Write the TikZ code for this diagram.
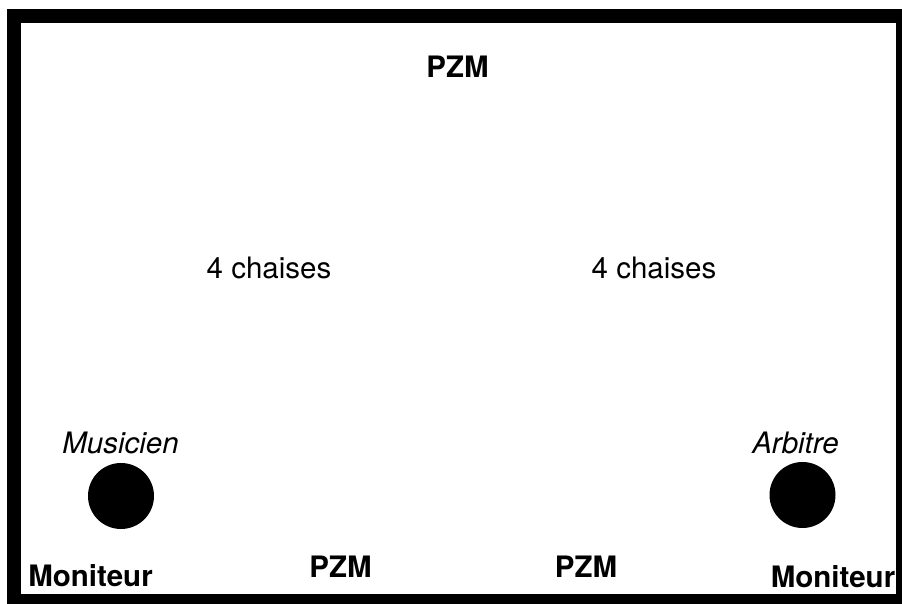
\documentclass[tikz,border=0pt]{standalone}
\usepackage{fontspec}
\setmainfont{TeX Gyre Heros}
\usetikzlibrary{positioning}

\begin{document}
\begin{tikzpicture}[x=1pt, y=-1pt,
	roomText/.style={anchor=base, inner sep=0pt, font=\fontsize{29.5}{33}\selectfont},
	boldText/.style={roomText, font=\fontsize{29.5}{33}\selectfont\bfseries},
	roleText/.style={roomText, font=\fontsize{29.5}{33}\selectfont\itshape},
	seatDot/.style={circle, fill=black, inner sep=0pt, minimum size=66pt}]
\useasboundingbox (0,0) rectangle (902,604);
\draw[line width=14pt] (14,16) rectangle (903,601);

	\node[boldText](pzmTop) at (457.5,78){PZM};
	\node[roomText](chairsLeft) at (269,278.5){4 chaises};
	\node[roomText](chairsRight) at (654,278.5){4 chaises};

	\node[roleText](musicianLabel) at (120.5,453){Musicien};
	\node[seatDot](musicianSeat) at (121,496){};
	\node[roleText](refereeLabel) at (795.5,453){Arbitre};
	\node[seatDot](refereeSeat) at (802.5,495){};

	\node[boldText](monitorLeft) at (90.5,586){Moniteur};
	\node[boldText](pzmBottomLeft) at (340.5,577){PZM};
	\node[boldText](pzmBottomRight) at (586,577){PZM};
	\node[boldText](monitorRight) at (833,587){Moniteur};
\end{tikzpicture}
\end{document}
